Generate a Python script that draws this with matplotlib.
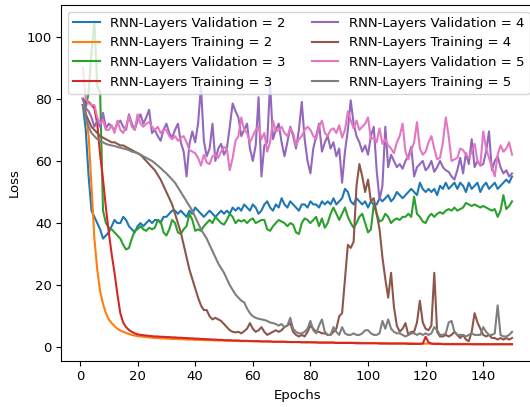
import numpy as np
import matplotlib
matplotlib.use("Agg")
import matplotlib.pyplot as plt

plt.rcParams["font.size"] = 9.5

epochs = list(range(1, 151))

val_2 = [78, 70, 55, 44, 42, 40, 38, 35, 36, 37, 39, 41, 40, 40, 42, 41, 39, 38, 37, 39,
         40, 39, 40, 41, 40, 41, 41, 40, 42, 42, 43, 44, 44, 43, 44, 43, 42, 44, 43, 45,
         44, 43, 42, 43, 44, 43, 42, 43, 44, 43, 44, 43, 45, 44, 45, 44, 46, 45, 44, 46,
         45, 43, 44, 46, 47, 45, 44, 46, 45, 48, 46, 45, 47, 46, 45, 44, 46, 46, 45, 47,
         46, 46, 45, 47, 46, 47, 46, 48, 46, 47, 48, 51, 50, 47, 46, 48, 47, 46, 47, 45,
         47, 46, 46, 48, 47, 48, 49, 47, 48, 50, 49, 48, 49, 50, 51, 50, 49, 53, 51, 50,
         51, 50, 51, 49, 52, 51, 53, 51, 52, 53, 51, 53, 52, 50, 53, 51, 52, 53, 50, 52,
         53, 51, 52, 53, 51, 52, 53, 54, 53, 55]

train_2 = [78, 76, 68, 52, 35, 25, 18, 14, 11, 9, 7.8, 6.8, 6.0, 5.4, 5.0, 4.6, 4.3, 4.0, 3.8, 3.6,
           3.5, 3.4, 3.3, 3.2, 3.1, 3.0, 3.0, 2.9, 2.9, 2.8, 2.8, 2.7, 2.7, 2.7, 2.6, 2.6, 2.5, 2.5, 2.5, 2.4,
           2.4, 2.4, 2.3, 2.3, 2.3, 2.3, 2.2, 2.2, 2.2, 2.2, 2.1, 2.1, 2.1, 2.1, 2.0, 2.0, 2.0, 2.0, 2.0, 2.0,
           1.9, 1.9, 1.9, 1.9, 1.9, 1.9, 1.8, 1.8, 1.8, 1.8, 1.8, 1.8, 1.7, 1.7, 1.7, 1.7, 1.7, 1.7, 1.7, 1.7,
           1.6, 1.6, 1.6, 1.6, 1.6, 1.6, 1.6, 1.6, 1.5, 1.5, 1.5, 1.5, 1.5, 1.5, 1.5, 1.5, 1.5, 1.4, 1.4, 1.4,
           1.4, 1.4, 1.4, 1.4, 1.4, 1.4, 1.3, 1.3, 1.3, 1.3, 1.3, 1.3, 1.3, 1.3, 1.3, 1.2, 1.2, 1.2, 1.2, 1.2,
           1.2, 1.2, 1.2, 1.2, 1.2, 1.1, 1.1, 1.1, 1.1, 1.1, 1.1, 1.1, 1.1, 1.1, 1.1, 1.0, 1.0, 1.0, 1.0, 1.0,
           1.0, 1.0, 1.0, 1.0, 1.0, 1.0, 1.0, 1.0, 1.0, 1.0]

val_3 = [80, 77, 82, 95, 105, 84, 82, 44, 40, 38.5, 38, 37, 36, 35, 33, 31.5, 32, 35, 37.5, 38,
         39, 38, 37.5, 38.5, 38, 38.5, 41, 40.5, 37, 36, 38, 41, 40, 37, 36.5, 38, 39, 43, 41, 37.5,
         38, 37.5, 39, 40, 41, 40, 42, 41, 40, 39.5, 41, 43, 42, 40, 41, 40.5, 41, 40, 41, 41.5,
         40, 40.5, 41, 41, 38, 37.5, 39, 40, 41, 40.5, 40, 39, 40, 39.5, 37, 36.5, 40, 41.5, 41, 40,
         41, 42, 39, 41.5, 38.5, 40, 43, 45, 43, 41, 43, 45, 42, 40, 38.5, 40, 42, 43, 40, 37,
         38, 46, 43, 40.5, 41, 43, 42, 40, 41, 41.5, 41, 42, 42, 43, 42, 48.5, 43, 42, 40.5, 40,
         42, 43, 42, 43, 43.5, 43, 44, 44.5, 44, 45, 44, 44.5, 45, 46.5, 46, 45.5, 46, 45.5, 45, 45.5,
         45, 44.5, 44, 44.5, 42, 44, 49, 44.5, 45.5, 47]

train_3 = [80, 79, 79, 78, 77, 72, 62, 54, 45, 37, 30, 24, 17, 11, 8, 6.5, 5.6, 5.0, 4.5, 4.2,
           4.0, 3.9, 3.8, 3.7, 3.6, 3.5, 3.5, 3.4, 3.4, 3.3, 3.3, 3.2, 3.2, 3.1, 3.1, 3.0, 3.0, 2.9, 2.9, 2.8,
           2.8, 2.7, 2.7, 2.6, 2.6, 2.5, 2.5, 2.4, 2.4, 2.3, 2.3, 2.3, 2.2, 2.2, 2.2, 2.1, 2.1, 2.1, 2.0, 2.0,
           2.0, 2.0, 1.9, 1.9, 1.9, 1.9, 1.8, 1.8, 1.8, 1.8, 1.8, 1.7, 1.7, 1.7, 1.7, 1.7, 1.6, 1.6, 1.6, 1.6,
           1.6, 1.6, 1.5, 1.5, 1.5, 1.5, 1.5, 1.5, 1.4, 1.4, 1.4, 1.4, 1.4, 1.4, 1.4, 1.3, 1.3, 1.3, 1.3, 1.3,
           1.3, 1.3, 1.3, 1.2, 1.2, 1.2, 1.2, 1.2, 1.2, 1.2, 1.2, 1.2, 1.2, 1.1, 1.1, 1.1, 1.1, 1.1, 1.2, 3.4,
           1.6, 1.2, 1.1, 1.1, 1.1, 1.0, 1.0, 1.0, 1.0, 1.0, 1.0, 1.0, 1.0, 1.0, 1.0, 1.0, 1.0, 1.0, 1.0, 1.0,
           1.0, 1.0, 1.0, 1.0, 1.0, 1.0, 1.0, 1.0, 1.0, 1.0]

val_4 = [80, 77, 76, 74, 71, 73, 71, 75.5, 70.5, 72, 71, 70, 72, 73, 71, 70, 75, 72, 70, 73,
         75, 72, 74, 76.5, 69, 70, 68, 66.5, 70, 72, 69, 67.5, 70, 72, 66, 63, 55, 65.5, 69.5, 66,
         72, 84, 66.5, 61.5, 64, 72, 60, 64, 65.5, 62, 64, 71, 78.5, 76, 74, 68, 70, 72, 64, 60,
         65, 80.5, 55, 65, 66, 85, 67, 70, 72, 66, 61.5, 66, 71, 68, 64, 70, 79, 67, 60, 56,
         64, 68, 72, 63, 66, 68, 64, 66, 61.5, 64, 53, 63, 70, 79.5, 72, 68, 66, 63, 65, 62,
         68, 71, 57, 47.5, 52, 71, 58, 62, 60, 58, 59, 57.5, 60, 61.5, 64.5, 55, 58, 59, 60, 57,
         58, 60, 56.5, 58, 60, 58, 57, 56.5, 55, 54, 57, 61, 56, 62.5, 59, 67, 58, 60, 58.5, 59,
         63, 69.5, 57, 60, 61.5, 58, 56, 57, 55, 56]

train_4 = [78, 75, 73, 71, 70, 69, 68, 67.5, 67, 66.5, 66, 66, 65.5, 65, 65, 64.5, 64, 63.5, 63, 62.5,
           62, 61, 60, 59, 58, 57, 55.5, 54, 52, 50, 48, 46, 43, 40, 37, 33, 29, 25, 22, 19,
           16, 13.5, 12, 12, 10, 9, 9.5, 9, 8.5, 7.5, 6.5, 5.5, 5, 4.8, 5, 4.5, 5.2, 6, 7.8, 6,
           5, 5.5, 6.5, 5, 4, 4.5, 5, 5.5, 5, 5.5, 6.6, 7, 7.8, 5, 4, 3.5, 4, 3.5, 5, 7,
           6, 5, 5, 4.5, 4.5, 4, 4, 5, 6, 10, 11, 22, 33, 32, 34, 52, 59, 55, 50, 54,
           47, 48, 43, 38, 29, 22, 16, 24, 13, 7, 5, 6, 7.8, 4, 5, 5, 8, 15, 8, 6,
           5.5, 7, 24, 5, 3.5, 3.5, 4, 3.5, 4, 5, 4, 3, 4, 2.5, 2, 5, 11, 8, 6, 4,
           3.5, 4, 3, 3, 2.5, 3, 2.5, 3, 2.5, 3]

val_5 = [90, 80, 78.5, 78, 78, 74, 72, 73, 70, 70, 71.5, 69, 73, 70, 69, 71, 74.5, 71, 70, 75,
         72, 71, 72, 72.5, 71, 70, 71, 69, 70, 70, 68, 67, 68, 66.5, 67.5, 68, 66, 63.5, 63, 62.5,
         61, 58.5, 62, 59.5, 59, 61.5, 62, 61, 63, 64.5, 64, 57, 61, 66.5, 68, 74, 70, 69, 66, 68,
         70, 71, 67, 69, 63, 66, 73, 69.5, 70, 71, 69, 68, 70.5, 69, 65, 67, 68, 70, 71, 70,
         68, 67, 71, 73, 69, 68, 70, 70.5, 69, 71.5, 67.5, 70, 76, 73, 70.5, 73, 70, 71, 72, 74,
         67, 67.5, 66, 70.5, 65.5, 67, 65, 64, 62.5, 66, 68, 72, 63, 60.5, 63.5, 66, 72.5, 64, 62, 63,
         66, 68, 64, 60.5, 61, 66, 74, 68, 60, 60.5, 61, 64, 63.5, 62, 61, 63, 65.5, 60, 58.5, 69.5,
         64, 61, 58, 55, 62, 65, 63, 64, 66, 62]

train_5 = [78, 74, 71, 69, 68, 67, 66.5, 66, 65.5, 65.2, 65, 64.8, 64.5, 64.3, 64, 63.8, 63.5, 63, 62.8, 62.5,
           62, 61.5, 61, 60.5, 60, 59.3, 58.5, 57.7, 56.8, 56, 55, 54, 53, 51.5, 50, 48.5, 47, 45.5, 44, 42,
           40, 38, 36.5, 35, 33, 31, 29, 27, 25.5, 24, 22, 20, 18.5, 17, 16, 15, 14.5, 12.5, 11, 10,
           9.5, 9.2, 9, 8.8, 8.5, 8, 7.8, 7.5, 7, 7.5, 6.5, 7, 9.5, 6, 5, 4.5, 4.5, 5, 6, 8.5,
           5.5, 4.5, 7, 9, 5, 4, 4, 6.5, 5, 4, 6.5, 4.5, 4, 4, 4.5, 4, 4, 4.5, 5.5, 5.5,
           4.5, 4, 4, 4.5, 8.5, 6, 9, 6, 5, 4.5, 4.5, 4, 3.5, 4, 4.5, 4.5, 4, 4.5, 4, 4.5,
           4, 4.5, 6.5, 5.5, 4, 4, 4.5, 8, 8.5, 5, 4, 4, 4, 3.5, 4, 4.5, 4, 4, 4, 6.5,
           5, 4, 4, 4.5, 13.5, 4, 3.5, 3.5, 4, 5]

series = [
    ("RNN-Layers Validation = 2", val_2),
    ("RNN-Layers Training = 2", train_2),
    ("RNN-Layers Validation = 3", val_3),
    ("RNN-Layers Training = 3", train_3),
    ("RNN-Layers Validation = 4", val_4),
    ("RNN-Layers Training = 4", train_4),
    ("RNN-Layers Validation = 5", val_5),
    ("RNN-Layers Training = 5", train_5),
]

fig = plt.figure(figsize=(5.30, 4.07), dpi=100)
ax = fig.add_axes([61.4 / 530, (407 - 360.7) / 407, (533.5 - 61.4) / 530, (360.7 - 5) / 407])
for label, vals in series:
    ax.plot(epochs, vals, label=label, linewidth=1.5)

ax.set_xlim(-6.45, 157.45)
ax.set_ylim(-4.3, 110.2)
ax.set_xticks([0, 20, 40, 60, 80, 100, 120, 140])
ax.set_yticks([0, 20, 40, 60, 80, 100])
ax.set_xlabel("Epochs")
ax.set_ylabel("Loss")
ax.legend(loc="upper left", ncol=2)

fig.savefig("out.png", dpi=100)
